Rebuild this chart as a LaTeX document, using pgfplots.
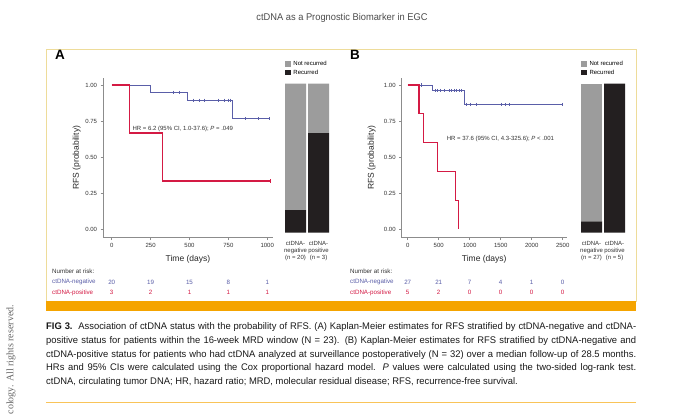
\documentclass[border=0pt]{standalone}
\usepackage{pgfplots}
\pgfplotsset{compat=1.18}
\usepackage{fontspec}
\setmainfont{Liberation Sans}
\newfontfamily\condfont[FakeStretch=0.98]{Liberation Sans}
\newfontfamily\headfont[FakeStretch=0.95]{Liberation Sans}
\newfontfamily\seriffont{Liberation Serif}
\definecolor{kmblue}{HTML}{5A5EA8}
\definecolor{kmred}{HTML}{D41A44}
\definecolor{bargray}{HTML}{9C9C9C}
\definecolor{barblack}{HTML}{231F20}
\definecolor{boxline}{HTML}{EEDC9A}
\definecolor{orangebar}{HTML}{F5A400}
\definecolor{txt}{HTML}{333333}
\newcommand\tickf{\fontsize{6}{7}\selectfont}
\newcommand\riskf{\fontsize{6.2}{7}\selectfont}
\pgfplotsset{
 kmaxis/.style={
  scale only axis, anchor=south west,
  axis x line=bottom, axis y line=left,
  axis line style={-, draw=black!45, line width=0.5pt},
  tick style={draw=black!45, line width=0.5pt},
  tick align=outside, major tick length=2.5pt,
  ymin=-0.06, ymax=1.05, height=159.8pt,
  ytick={0,0.25,0.5,0.75,1}, yticklabels={0.00,0.25,0.50,0.75,1.00},
  ticklabel style={font=\tickf, text=txt},
  clip=false,
  xlabel={Time (days)}, ylabel={RFS (probability)},
  label style={font=\fontsize{8.5}{10}\selectfont, text=black!85},
  xlabel style={at={(axis description cs:0.5,-0.134)}, anchor=center},
 },
 baraxis/.style={
  scale only axis, anchor=south west, width=60pt, height=149pt,
  ymin=0, ymax=1, hide axis, ybar stacked, bar width=21pt, clip=false,
  reverse legend,
  legend image code/.code={\fill[##1] (0pt,-2.75pt) rectangle (5.5pt,2.75pt);},
  legend style={draw=none, fill=none, inner sep=0pt, font=\fontsize{6}{7}\selectfont,
    nodes={inner sep=1pt}, cells={anchor=west}, row sep=0.6pt, anchor=south west,
    /tikz/every odd column/.append style={column sep=1.8pt}},
 },
}
\begin{document}
\begin{tikzpicture}[x=1pt,y=1pt]
\fill[white] (0,0) rectangle (680,416);
\useasboundingbox (0,0) rectangle (680,416);

% header
\node[font=\headfont\fontsize{9.8}{11}\selectfont, text=black!70] at (342,398) {ctDNA as a Prognostic Biomarker in EGC};

% box
\draw[boxline, line width=0.8pt] (46,114) -- (46,367) -- (636,367) -- (636,114);
\fill[orangebar] (45.6,105) rectangle (636.4,115);
\draw[orangebar!65, line width=0.8pt] (46,14) -- (636,14);

% side text
\node[rotate=90, anchor=west, inner sep=0, font=\seriffont\fontsize{10}{11}\selectfont, text=black!60] at (11,1.5) {cology. All rights reserved.};

% panel letters
\node[anchor=base west, inner sep=0, font=\fontsize{13.5}{14}\selectfont\bfseries] at (55,356) {A};
\node[anchor=base west, inner sep=0, font=\fontsize{13.5}{14}\selectfont\bfseries] at (350,356) {B};

\node[anchor=west, inner sep=0, font=\riskf, text=txt] at (52,145) {Number at risk:};
\node[anchor=west, inner sep=0, font=\riskf, text=kmblue] at (52,134) {ctDNA-negative};
\node[anchor=west, inner sep=0, font=\riskf, text=kmred] at (52,123.5) {ctDNA-positive};
\node[anchor=west, inner sep=0, font=\riskf, text=txt] at (350,145) {Number at risk:};
\node[anchor=west, inner sep=0, font=\riskf, text=kmblue] at (350,134) {ctDNA-negative};
\node[anchor=west, inner sep=0, font=\riskf, text=kmred] at (350,123.5) {ctDNA-positive};

% caption
\node[anchor=base west, inner sep=0, text=black!90] at (46,86.5) {\condfont\fontsize{9.6}{13.8}\selectfont\vtop{\hsize=590pt\baselineskip=13.8pt
\hbox to\hsize{\textbf{FIG 3.}\ \ Association of ctDNA status with the probability of RFS. (A) Kaplan-Meier estimates for RFS stratified by ctDNA-negative and ctDNA-}
\hbox to\hsize{positive status for patients within the 16-week MRD window (N = 23). (B) Kaplan-Meier estimates for RFS stratified by ctDNA-negative and}
\hbox to\hsize{ctDNA-positive status for patients who had ctDNA analyzed at surveillance postoperatively (N = 32) over a median follow-up of 28.5 months.}
\hbox to\hsize{HRs and 95\% CIs were calculated using the Cox proportional hazard model. \textit{P} values were calculated using the two-sided log-rank test.}
\hbox{ctDNA, circulating tumor DNA; HR, hazard ratio; MRD, molecular residual disease; RFS, recurrence-free survival.}}};

% ---------------- Panel A KM ----------------
\begin{scope}[shift={(103pt,178.4pt)}]
\begin{axis}[kmaxis, at={(0pt,0pt)}, width=170pt, xmin=-56, xmax=1037,
  xtick={0,250,500,750,1000}, xticklabels={0,250,500,750,1000},
  ylabel style={at={(axis description cs:-0.155,0.5)}, anchor=center}]
\addplot[const plot, kmblue, line width=0.7pt] coordinates {(0,1) (247,0.95) (485,0.894) (773,0.766) (1015,0.766)};
\addplot[only marks, mark=|, mark size=1.6pt, kmblue, mark options={line width=0.5pt}] coordinates {
 (397,0.95) (435,0.95)
 (526,0.894) (564,0.894) (594,0.894) (687,0.894) (725,0.894) (747,0.894) (762,0.894)
 (858,0.766) (940,0.766) (1015,0.766)};
\addplot[const plot, kmred, line width=1.2pt] coordinates {(0,1) (112,0.6667) (328,0.3333) (1019,0.3333)};
\addplot[only marks, mark=|, mark size=1.6pt, kmred, mark options={line width=0.5pt}] coordinates {(1019,0.3333)};
\node[anchor=west, inner sep=0, font=\fontsize{6}{7}\selectfont, text=txt] at (axis cs:133,0.697) {HR = 6.2 (95\% CI, 1.0-37.6); \textit{P} = .049};
\node[font=\riskf, text=kmblue] at (axis cs:0,-0.368) {20};
\node[font=\riskf, text=kmblue] at (axis cs:250,-0.368) {19};
\node[font=\riskf, text=kmblue] at (axis cs:500,-0.368) {15};
\node[font=\riskf, text=kmblue] at (axis cs:750,-0.368) {8};
\node[font=\riskf, text=kmblue] at (axis cs:1000,-0.368) {1};
\node[font=\riskf, text=kmred] at (axis cs:0,-0.441) {3};
\node[font=\riskf, text=kmred] at (axis cs:250,-0.441) {2};
\node[font=\riskf, text=kmred] at (axis cs:500,-0.441) {1};
\node[font=\riskf, text=kmred] at (axis cs:750,-0.441) {1};
\node[font=\riskf, text=kmred] at (axis cs:1000,-0.441) {1};
\end{axis}
\end{scope}

% ---------------- Panel A bars ----------------
\begin{scope}[shift={(280pt,183.5pt)}]
\begin{axis}[baraxis, at={(0pt,0pt)}, xmin=280, xmax=340,
  legend style={at={(0.083,1.045)}}]
\addplot[fill=barblack, draw=none] coordinates {(295.5,0.15) (318.5,0.6667)};
\addlegendentry{Recurred}
\addplot[fill=bargray, draw=none] coordinates {(295.5,0.85) (318.5,0.3333)};
\addlegendentry{Not recurred}
\node[font=\fontsize{5.5}{6}\selectfont, text=white!88!black] at (axis cs:295.5,0.575) {17};
\node[font=\fontsize{5.5}{6}\selectfont, text=white] at (axis cs:295.5,0.075) {3};
\node[font=\fontsize{5.5}{6}\selectfont, text=white!88!black] at (axis cs:318.5,0.8333) {1};
\node[font=\fontsize{5.5}{6}\selectfont, text=white] at (axis cs:318.5,0.3333) {2};
\node[anchor=north, align=center, inner sep=0, font=\fontsize{6}{7.3}\selectfont, text=txt] at (axis cs:295.5,-0.055) {ctDNA-\\negative\\(n = 20)};
\node[anchor=north, align=center, inner sep=0, font=\fontsize{6}{7.3}\selectfont, text=txt] at (axis cs:318.5,-0.055) {ctDNA-\\positive\\(n = 3)};
\end{axis}
\end{scope}

% ---------------- Panel B KM ----------------
\begin{scope}[shift={(401.7pt,178.4pt)}]
\begin{axis}[kmaxis, at={(0pt,0pt)}, width=165pt, xmin=-97, xmax=2565,
  xtick={0,500,1000,1500,2000,2500}, xticklabels={0,500,1000,1500,2000,2500},
  ylabel style={at={(axis description cs:-0.182,0.5)}, anchor=center}]
\addplot[const plot, kmblue, line width=0.7pt] coordinates {(0,1) (395,0.9615) (915,0.865) (2494,0.865)};
\addplot[only marks, mark=|, mark size=1.6pt, kmblue, mark options={line width=0.5pt}] coordinates {
 (215,1)
 (440,0.9615) (483,0.9615) (531,0.9615) (585,0.9615) (666,0.9615) (709,0.9615) (746,0.9615) (790,0.9615) (832,0.9615) (871,0.9615)
 (945,0.865) (1010,0.865) (1105,0.865) (1505,0.865) (1577,0.865) (1645,0.865) (2494,0.865)};
\addplot[const plot, kmred, line width=1.2pt] coordinates {(0,1) (182,0.8) (250,0.6) (484,0.4) (774,0.2) (817,0)};
\node[anchor=west, inner sep=0, font=\fontsize{6}{7}\selectfont, text=txt] at (axis cs:629,0.625) {HR = 37.6 (95\% CI, 4.3-325.6); \textit{P} {\textless} .001};
\node[font=\riskf, text=kmblue] at (axis cs:0,-0.368) {27};
\node[font=\riskf, text=kmblue] at (axis cs:500,-0.368) {21};
\node[font=\riskf, text=kmblue] at (axis cs:1000,-0.368) {7};
\node[font=\riskf, text=kmblue] at (axis cs:1500,-0.368) {4};
\node[font=\riskf, text=kmblue] at (axis cs:2000,-0.368) {1};
\node[font=\riskf, text=kmblue] at (axis cs:2500,-0.368) {0};
\node[font=\riskf, text=kmred] at (axis cs:0,-0.441) {5};
\node[font=\riskf, text=kmred] at (axis cs:500,-0.441) {2};
\node[font=\riskf, text=kmred] at (axis cs:1000,-0.441) {0};
\node[font=\riskf, text=kmred] at (axis cs:1500,-0.441) {0};
\node[font=\riskf, text=kmred] at (axis cs:2000,-0.441) {0};
\node[font=\riskf, text=kmred] at (axis cs:2500,-0.441) {0};
\end{axis}
\end{scope}

% ---------------- Panel B bars ----------------
\begin{scope}[shift={(575pt,183.5pt)}]
\begin{axis}[baraxis, at={(0pt,0pt)}, xmin=575, xmax=635,
  legend style={at={(0.1,1.045)}}]
\addplot[fill=barblack, draw=none] coordinates {(591.5,0.0741) (614.5,1)};
\addlegendentry{Recurred}
\addplot[fill=bargray, draw=none] coordinates {(591.5,0.9259) (614.5,0)};
\addlegendentry{Not recurred}
\node[font=\fontsize{5.5}{6}\selectfont, text=white!88!black] at (axis cs:591.5,0.537) {25};
\node[font=\fontsize{5.5}{6}\selectfont, text=white] at (axis cs:591.5,0.037) {2};
\node[font=\fontsize{5.5}{6}\selectfont, text=white] at (axis cs:614.5,0.5) {5};
\node[anchor=north, align=center, inner sep=0, font=\fontsize{6}{7.3}\selectfont, text=txt] at (axis cs:591.5,-0.055) {ctDNA-\\negative\\(n = 27)};
\node[anchor=north, align=center, inner sep=0, font=\fontsize{6}{7.3}\selectfont, text=txt] at (axis cs:614.5,-0.055) {ctDNA-\\positive\\(n = 5)};
\end{axis}
\end{scope}
\end{tikzpicture}
\end{document}
